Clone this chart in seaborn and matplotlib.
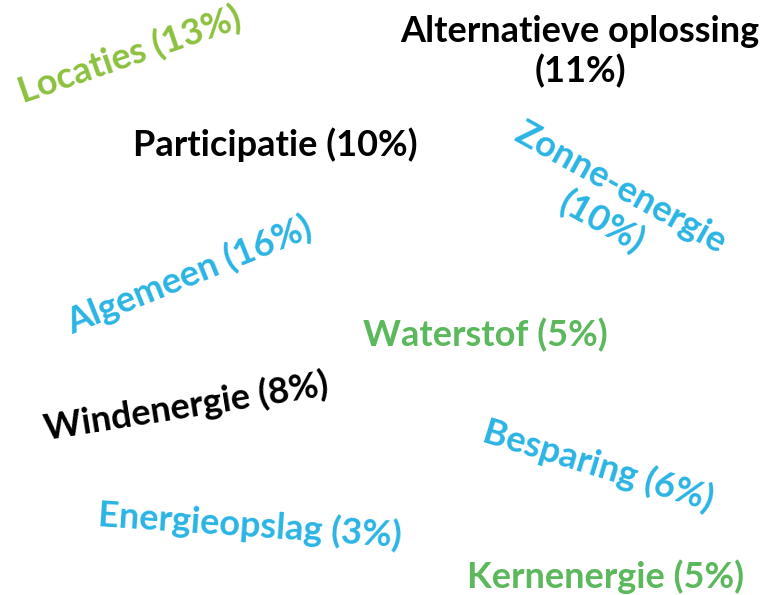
import seaborn as sns
import matplotlib.pyplot as plt

# data: topics and share (%)
topics = ["Locaties", "Alternatieve oplossing", "Participatie", "Zonne-energie",
          "Algemeen", "Waterstof", "Windenergie", "Besparing",
          "Energieopslag", "Kernenergie"]
shares = [13, 11, 10, 10, 16, 5, 8, 6, 3, 5]

# layout of the word cloud (pixel positions, rotation, colour)
pos_x = [130, 580, 275, 611, 189, 485, 186, 598, 250, 606]
pos_y = [55, 52, 145, 205, 275, 335, 406, 465, 525, 577]
angles = [19, 0, 0, -29, 22, 0, 9, -17, -4, 0]
two_lines = [False, True, False, True, False, False, False, False, False, False]
colors = ["#8cc13f", "#000000", "#000000", "#2ab4e4", "#2ab4e4",
          "#5cb85c", "#000000", "#2ab4e4", "#2ab4e4", "#5cb85c"]

sns.set_theme(style="white")
plt.rcParams['font.family'] = ['Lato', 'DejaVu Sans']

fig = plt.figure(figsize=(7.65, 5.95), dpi=100)
ax = fig.add_axes([0, 0, 1, 1])
ax.set_xlim(0, 765)
ax.set_ylim(595, 0)
ax.axis("off")

for t, s, x, y, a, two, c in zip(topics, shares, pos_x, pos_y, angles, two_lines, colors):
    label = f"{t}\n({s}%)" if two else f"{t} ({s}%)"
    ax.text(x, y, label, color=c, fontsize=26, fontweight="bold",
            rotation=a, rotation_mode="anchor", ha="center", va="center",
            multialignment="center", linespacing=1.2)

fig.savefig("out.png", dpi=100)
